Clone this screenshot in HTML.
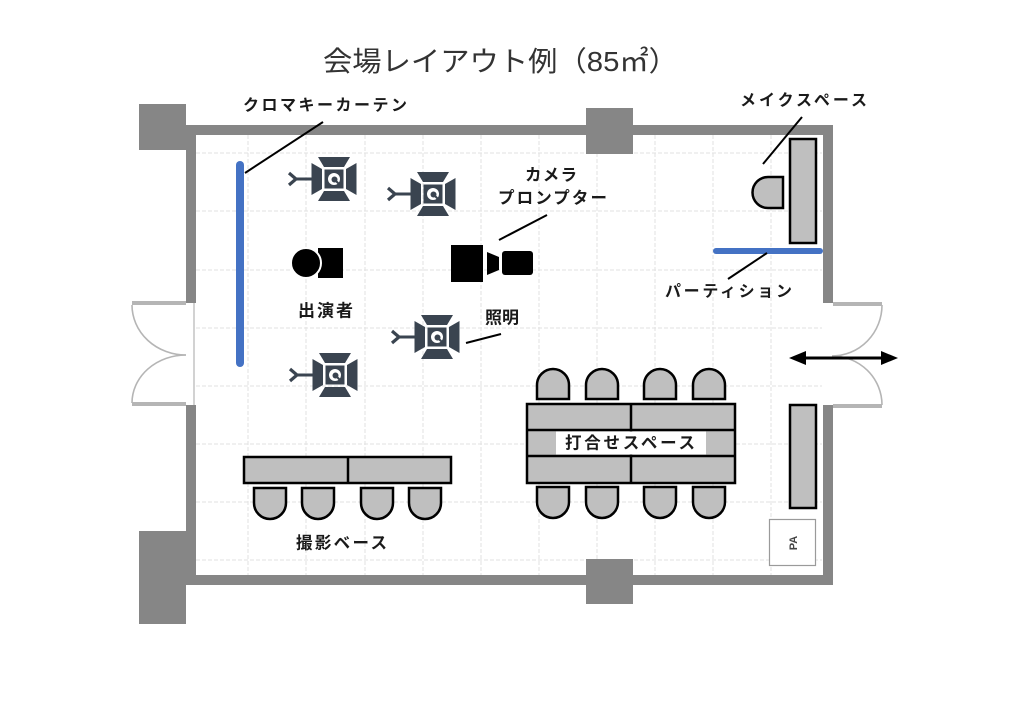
<!DOCTYPE html>
<html>
<head>
<meta charset="utf-8">
<style>
html,body{margin:0;padding:0;background:#fff;}
svg{display:block;}
.lbl{font-family:"Liberation Sans","Noto Sans CJK JP",sans-serif;font-weight:bold;fill:#1a1a1a;}
</style>
</head>
<body>
<svg width="1024" height="709" viewBox="0 0 1024 709" xmlns="http://www.w3.org/2000/svg">
<rect x="0" y="0" width="1024" height="709" fill="#fff"/>

<!-- Title -->
<text x="323" y="71" font-family="'Liberation Sans','Noto Sans CJK JP',sans-serif" font-size="28" fill="#333" textLength="355" lengthAdjust="spacingAndGlyphs">会場レイアウト例（85㎡）</text>

<!-- Grid -->
<g stroke="#e2e2e2" stroke-width="1" stroke-dasharray="4 2" fill="none">
  <line x1="248" y1="135" x2="248" y2="575"/>
  <line x1="306" y1="135" x2="306" y2="575"/>
  <line x1="365" y1="135" x2="365" y2="575"/>
  <line x1="423" y1="135" x2="423" y2="575"/>
  <line x1="481" y1="135" x2="481" y2="575"/>
  <line x1="539" y1="135" x2="539" y2="575"/>
  <line x1="597" y1="135" x2="597" y2="575"/>
  <line x1="655" y1="135" x2="655" y2="575"/>
  <line x1="713" y1="135" x2="713" y2="575"/>
  <line x1="771" y1="135" x2="771" y2="575"/>
  <line x1="196" y1="153" x2="822" y2="153"/>
  <line x1="196" y1="211" x2="822" y2="211"/>
  <line x1="196" y1="270" x2="822" y2="270"/>
  <line x1="196" y1="328" x2="822" y2="328"/>
  <line x1="196" y1="386" x2="822" y2="386"/>
  <line x1="196" y1="444" x2="822" y2="444"/>
  <line x1="196" y1="502" x2="822" y2="502"/>
  <line x1="196" y1="560" x2="822" y2="560"/>
</g>

<!-- Walls -->
<g fill="#868686">
  <rect x="186" y="125" width="647" height="10"/>
  <rect x="186" y="125" width="10" height="178"/>
  <rect x="186" y="405" width="10" height="180"/>
  <rect x="186" y="575" width="647" height="10"/>
  <rect x="823" y="125" width="10" height="178"/>
  <rect x="823" y="405" width="10" height="180"/>
  <rect x="139" y="104" width="47" height="46"/>
  <rect x="586" y="108" width="47" height="46"/>
  <rect x="139" y="531" width="47" height="93"/>
  <rect x="586" y="559" width="47" height="45"/>
</g>

<!-- Left door -->
<g fill="none" stroke="#b5b5b5">
  <line x1="132" y1="303" x2="186" y2="303" stroke-width="4"/>
  <line x1="132" y1="404" x2="186" y2="404" stroke-width="4"/>
  <line x1="194" y1="303" x2="194" y2="405" stroke-width="1.2"/>
  <path d="M132,305 A54,50 0 0 0 186,355" stroke-width="1.6"/>
  <path d="M132,403 A54,48 0 0 1 186,355" stroke-width="1.6"/>
</g>
<!-- Right door -->
<g fill="none" stroke="#b5b5b5">
  <line x1="833" y1="304" x2="882" y2="304" stroke-width="4"/>
  <line x1="833" y1="406" x2="882" y2="406" stroke-width="4"/>
  <path d="M882,305 A50,51 0 0 1 832,356" stroke-width="1.6"/>
  <path d="M882,405 A50,49 0 0 0 832,356" stroke-width="1.6"/>
</g>
<!-- Double arrow -->
<line x1="800" y1="358" x2="888" y2="358" stroke="#000" stroke-width="3"/>
<polygon points="789,358 806,351 806,365" fill="#000"/>
<polygon points="898,358 881,351 881,365" fill="#000"/>

<!-- Chroma key curtain -->
<line x1="240" y1="165" x2="240" y2="363" stroke="#4472c4" stroke-width="8" stroke-linecap="round"/>
<line x1="245" y1="173" x2="323" y2="122" stroke="#000" stroke-width="2"/>
<text class="lbl" x="243" y="110.5" font-size="16" textLength="164" lengthAdjust="spacing">クロマキーカーテン</text>

<!-- Lights -->
<g fill="#3a4450">
  <g transform="translate(334,179)">
    <line x1="-40" y1="0" x2="-22" y2="0" stroke="#3a4450" stroke-width="3"/>
    <polyline points="-45,-6 -38,0 -45,6" fill="none" stroke="#3a4450" stroke-width="3.2"/>
    <polygon points="-22.5,-16 -12,-10 -12,10 -22.5,16"/>
    <polygon points="22.5,-16 12,-10 12,10 22.5,16"/>
    <polygon points="-16,-22 16,-22 10,-12 -10,-12"/>
    <polygon points="-16,22 16,22 10,12 -10,12"/>
    <rect x="-9.5" y="-9.5" width="19" height="19"/>
    <circle cx="0" cy="0" r="6" fill="#fff"/>
    <circle cx="0.5" cy="0.5" r="3" fill="#3a4450"/>
    <line x1="0" y1="0" x2="5" y2="5" stroke="#3a4450" stroke-width="2"/>
  </g>
  <g transform="translate(433,194)">
    <line x1="-40" y1="0" x2="-22" y2="0" stroke="#3a4450" stroke-width="3"/>
    <polyline points="-45,-6 -38,0 -45,6" fill="none" stroke="#3a4450" stroke-width="3.2"/>
    <polygon points="-22.5,-16 -12,-10 -12,10 -22.5,16"/>
    <polygon points="22.5,-16 12,-10 12,10 22.5,16"/>
    <polygon points="-16,-22 16,-22 10,-12 -10,-12"/>
    <polygon points="-16,22 16,22 10,12 -10,12"/>
    <rect x="-9.5" y="-9.5" width="19" height="19"/>
    <circle cx="0" cy="0" r="6" fill="#fff"/>
    <circle cx="0.5" cy="0.5" r="3" fill="#3a4450"/>
    <line x1="0" y1="0" x2="5" y2="5" stroke="#3a4450" stroke-width="2"/>
  </g>
  <g transform="translate(437,337)">
    <line x1="-40" y1="0" x2="-22" y2="0" stroke="#3a4450" stroke-width="3"/>
    <polyline points="-45,-6 -38,0 -45,6" fill="none" stroke="#3a4450" stroke-width="3.2"/>
    <polygon points="-22.5,-16 -12,-10 -12,10 -22.5,16"/>
    <polygon points="22.5,-16 12,-10 12,10 22.5,16"/>
    <polygon points="-16,-22 16,-22 10,-12 -10,-12"/>
    <polygon points="-16,22 16,22 10,12 -10,12"/>
    <rect x="-9.5" y="-9.5" width="19" height="19"/>
    <circle cx="0" cy="0" r="6" fill="#fff"/>
    <circle cx="0.5" cy="0.5" r="3" fill="#3a4450"/>
    <line x1="0" y1="0" x2="5" y2="5" stroke="#3a4450" stroke-width="2"/>
  </g>
  <g transform="translate(335,375)">
    <line x1="-40" y1="0" x2="-22" y2="0" stroke="#3a4450" stroke-width="3"/>
    <polyline points="-45,-6 -38,0 -45,6" fill="none" stroke="#3a4450" stroke-width="3.2"/>
    <polygon points="-22.5,-16 -12,-10 -12,10 -22.5,16"/>
    <polygon points="22.5,-16 12,-10 12,10 22.5,16"/>
    <polygon points="-16,-22 16,-22 10,-12 -10,-12"/>
    <polygon points="-16,22 16,22 10,12 -10,12"/>
    <rect x="-9.5" y="-9.5" width="19" height="19"/>
    <circle cx="0" cy="0" r="6" fill="#fff"/>
    <circle cx="0.5" cy="0.5" r="3" fill="#3a4450"/>
    <line x1="0" y1="0" x2="5" y2="5" stroke="#3a4450" stroke-width="2"/>
  </g>
</g>
<line x1="466" y1="343" x2="501" y2="334" stroke="#000" stroke-width="2"/>
<text class="lbl" x="485" y="323.5" font-size="17" textLength="34" lengthAdjust="spacing">照明</text>

<!-- Performer -->
<rect x="318" y="248" width="25" height="30" fill="#000"/>
<circle cx="306" cy="263" r="15" fill="#000" stroke="#fff" stroke-width="2"/>
<text class="lbl" x="298" y="316.5" font-size="17" textLength="55" lengthAdjust="spacing">出演者</text>

<!-- Camera / prompter -->
<rect x="451" y="245" width="32" height="37" fill="#000"/>
<polygon points="487,252 499,257 499,270 487,275" fill="#000"/>
<rect x="502" y="251" width="31" height="24" rx="3" fill="#000"/>
<line x1="499" y1="240" x2="547" y2="215" stroke="#000" stroke-width="2"/>
<text class="lbl" x="525" y="180.5" font-size="16.5" textLength="52" lengthAdjust="spacing">カメラ</text>
<text class="lbl" x="498" y="203.5" font-size="16.5" textLength="109" lengthAdjust="spacing">プロンプター</text>

<!-- Make space -->
<rect x="790" y="139" width="26" height="104" fill="#bfbfbf" stroke="#000" stroke-width="2.5"/>
<path d="M783,177 L768,177 A15.5,15.5 0 0 0 768,208 L783,208 Z" fill="#bfbfbf" stroke="#000" stroke-width="2.5"/>
<line x1="763" y1="164" x2="802" y2="117" stroke="#000" stroke-width="2"/>
<text class="lbl" x="740" y="105.5" font-size="16" textLength="127" lengthAdjust="spacing">メイクスペース</text>

<!-- Partition -->
<line x1="716" y1="251" x2="820" y2="251" stroke="#4472c4" stroke-width="6" stroke-linecap="round"/>
<line x1="728" y1="279" x2="767" y2="253" stroke="#000" stroke-width="2"/>
<text class="lbl" x="665" y="296.5" font-size="16" textLength="127" lengthAdjust="spacing">パーティション</text>

<!-- Meeting space -->
<g fill="#bfbfbf" stroke="#000" stroke-width="2.5">
  <path d="M537,399 L537,385 A16,16 0 0 1 569,385 L569,399 Z"/>
  <path d="M586,399 L586,385 A16,16 0 0 1 618,385 L618,399 Z"/>
  <path d="M644,399 L644,385 A16,16 0 0 1 676,385 L676,399 Z"/>
  <path d="M693,399 L693,385 A16,16 0 0 1 725,385 L725,399 Z"/>
  <path d="M537,487 L569,487 L569,502 A16,16 0 0 1 537,502 Z"/>
  <path d="M586,487 L618,487 L618,502 A16,16 0 0 1 586,502 Z"/>
  <path d="M644,487 L676,487 L676,502 A16,16 0 0 1 644,502 Z"/>
  <path d="M693,487 L725,487 L725,502 A16,16 0 0 1 693,502 Z"/>
  <rect x="527" y="404" width="208" height="79"/>
  <line x1="631" y1="404" x2="631" y2="483"/>
  <line x1="527" y1="430" x2="735" y2="430"/>
  <line x1="527" y1="456" x2="735" y2="456"/>
</g>
<rect x="556" y="431.5" width="150" height="23" fill="#fff"/>
<text class="lbl" x="565" y="448.5" font-size="16.5" textLength="130" lengthAdjust="spacing">打合せスペース</text>

<!-- Right lower desk -->
<rect x="790" y="405" width="26" height="103" fill="#bfbfbf" stroke="#000" stroke-width="2.5"/>

<!-- PA -->
<rect x="769.5" y="519.5" width="46" height="46" fill="#fff" stroke="#9a9a9a" stroke-width="1.2"/>
<text x="0" y="0" transform="translate(797,543) rotate(-90)" text-anchor="middle" font-family="'Liberation Sans',sans-serif" font-weight="bold" font-size="11" fill="#444">PA</text>

<!-- Shooting base -->
<g fill="#bfbfbf" stroke="#000" stroke-width="2.5">
  <rect x="244" y="457" width="207" height="26"/>
  <line x1="348" y1="457" x2="348" y2="483"/>
  <path d="M254,488 L286,488 L286,503 A16,16 0 0 1 254,503 Z"/>
  <path d="M302,488 L334,488 L334,503 A16,16 0 0 1 302,503 Z"/>
  <path d="M361,488 L393,488 L393,503 A16,16 0 0 1 361,503 Z"/>
  <path d="M409,488 L441,488 L441,503 A16,16 0 0 1 409,503 Z"/>
</g>
<text class="lbl" x="296" y="548.5" font-size="16.5" textLength="91" lengthAdjust="spacing">撮影ベース</text>

</svg>
</body>
</html>
